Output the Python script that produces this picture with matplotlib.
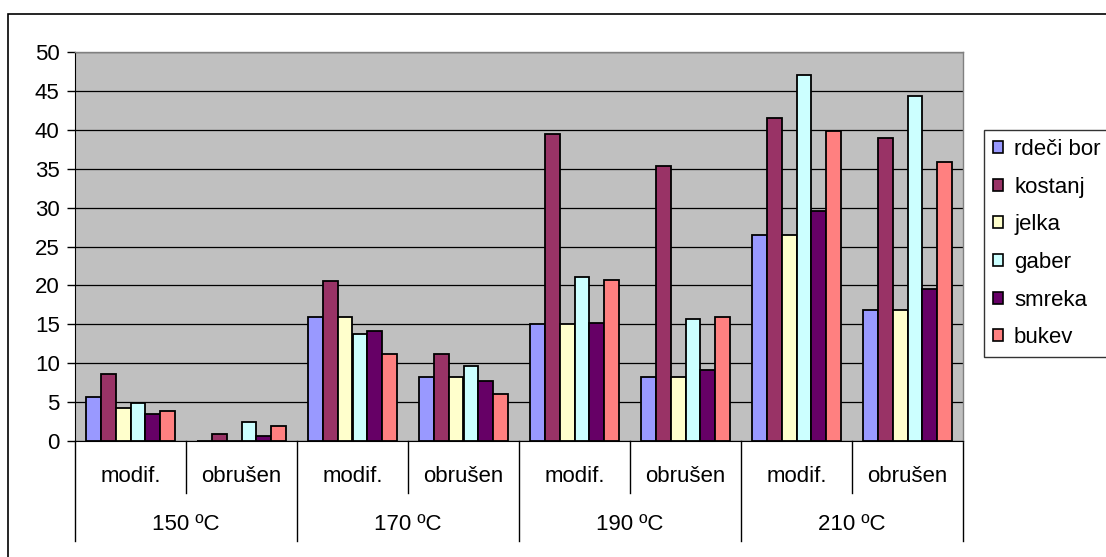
import matplotlib
matplotlib.use("Agg")
import matplotlib.pyplot as plt
from matplotlib.patches import Rectangle, Patch
import matplotlib.transforms as mtransforms

plt.rcParams["font.family"] = ["Liberation Sans", "DejaVu Sans"]

temps = ["150 ºC", "170 ºC", "190 ºC", "210 ºC"]
treatments = ["modif.", "obrušen"]
species = ["rdeči bor", "kostanj", "jelka", "gaber", "smreka", "bukev"]
colors = ["#9999FF", "#993366", "#FFFFCC", "#CCFFFF", "#660066", "#FF8080"]

# values per species across the 8 categories (150 modif, 150 obrušen, 170 modif, ...)
rdeci_bor = [5.6, 0.0, 15.9, 8.2, 15.0, 8.2, 26.5, 16.9]
kostanj   = [8.6, 0.9, 20.6, 11.2, 39.4, 35.4, 41.5, 38.9]
jelka     = [4.2, 0.0, 15.9, 8.2, 15.0, 8.2, 26.5, 16.9]
gaber     = [4.9, 2.5, 13.8, 9.6, 21.1, 15.7, 47.0, 44.3]
smreka    = [3.5, 0.7, 14.1, 7.7, 15.2, 9.1, 29.5, 19.5]
bukev     = [3.9, 1.9, 11.2, 6.1, 20.7, 15.9, 39.9, 35.9]
series = [rdeci_bor, kostanj, jelka, gaber, smreka, bukev]

W, H = 1106, 557
fig = plt.figure(figsize=(W / 100, H / 100), dpi=100)

# outer chart frame
fig.patches.append(Rectangle((8 / W, -0.01), 1.02, 1 - 14 / H + 0.01, transform=fig.transFigure,
                             fill=False, edgecolor="black", linewidth=1.2))

x0, x1, ytop, ybot = 75, 963, 52, 441
ax = fig.add_axes([x0 / W, 1 - ybot / H, (x1 - x0) / W, (ybot - ytop) / H])
ax.set_facecolor("#C0C0C0")

ncat = len(rdeci_bor)
bw = 0.134
for j, (vals, c, name) in enumerate(zip(series, colors, species)):
    xs = [i + 0.5 + (j - 2.5) * bw for i in range(ncat)]
    ax.bar(xs, vals, width=bw, color=c, edgecolor="black", linewidth=1.3, label=name, zorder=3)

ax.set_xlim(0, ncat)
ax.set_ylim(0, 50)
ax.set_yticks(range(0, 51, 5))
ax.tick_params(axis="y", direction="out", length=6, width=1, labelsize=16, pad=5)
ax.set_xticks([])
ax.yaxis.grid(True, color="black", linewidth=0.9, zorder=1)
ax.set_axisbelow(True)
for s in ["top", "right"]:
    ax.spines[s].set_color("#808080")
    ax.spines[s].set_linewidth(1)
ax.spines["left"].set_color("black")
ax.spines["bottom"].set_color("black")

# multi-level category axis
trans = mtransforms.blended_transform_factory(ax.transData, ax.transAxes)
ph = ybot - ytop
short = -52 / ph
long_ = -100 / ph
for i in range(ncat + 1):
    low = long_ if i % 2 == 0 else short
    ax.plot([i, i], [0, low], transform=trans, color="black", linewidth=1, clip_on=False)
for i in range(ncat):
    ax.text(i + 0.5, -35 / ph, treatments[i % 2], transform=trans, ha="center", va="center",
            fontsize=16)
for g, t in enumerate(temps):
    ax.text(2 * g + 1, -83 / ph, t, transform=trans, ha="center", va="center", fontsize=16)

handles = [Patch(facecolor=c, edgecolor="black", linewidth=1.2) for c in colors]
leg = fig.legend(handles, species, loc="upper left", bbox_to_anchor=(984 / W, 1 - 130 / H),
                 bbox_transform=fig.transFigure, borderaxespad=0, frameon=True, fancybox=False,
                 edgecolor="black", handlelength=0.45, handleheight=0.45, handletextpad=0.5,
                 labelspacing=0.75, borderpad=0.4, prop={"size": 16})
leg.get_frame().set_linewidth(1)

fig.savefig("out.png", dpi=100)
